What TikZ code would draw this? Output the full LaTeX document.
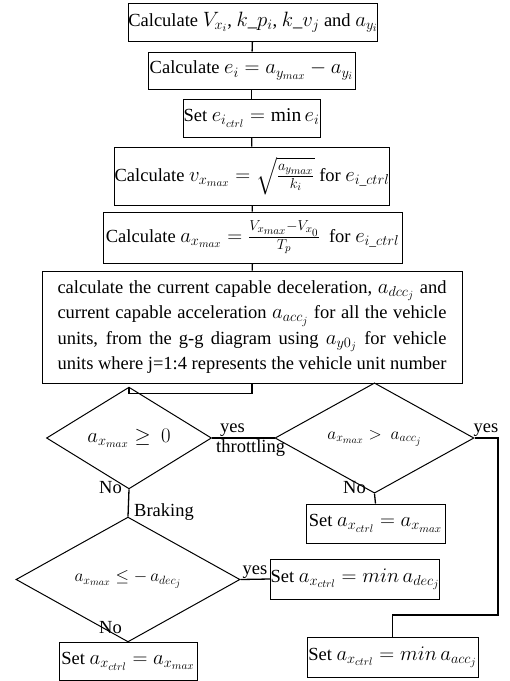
\documentclass[tikz,border=0pt]{standalone}
\usepackage{amsmath}
\usepackage{fontspec}
\setmainfont{Liberation Serif}
\DeclareMathSizes{18.5}{19.5}{13.5}{10.5}
\DeclareMathSizes{17}{18}{13}{10}
\usetikzlibrary{shapes.geometric,positioning}
\tikzset
{
    stepbox/.style   = {rectangle, draw=black, line width=1pt, align=center, inner xsep=0pt, inner ysep=2pt, font=\fontsize{18.5}{22}\selectfont},
    testnode/.style  = {diamond, draw=black, line width=1pt, align=center, inner sep=0pt, font=\fontsize{18.5}{22}\selectfont},
    branch/.style    = {inner sep=1pt, font=\fontsize{18.5}{22}\selectfont},
    flowline/.style  = {draw=black, line width=1.3pt}
}

\begin{document}
\begin{tikzpicture}[x=1pt, y=-1pt]
\useasboundingbox (0,0) rectangle (510,681);
% main column
\node[stepbox, minimum width=246pt, minimum height=38pt] (calcv) at (253,22)
    {Calculate $V_{x_i}$, $k\_p_i$, $k\_v_j$ and $a_{y_i}$};
\node[stepbox, minimum width=207pt, minimum height=37pt] (calce) at (251.5,70.5)
    {Calculate $e_i = a_{y_{max}} - a_{y_i}$};
\node[stepbox, minimum width=137pt, minimum height=38pt] (sete) at (251.5,118)
    {Set $e_{i_{ctrl}} = \min e_i$};
\node[stepbox, minimum width=274pt, minimum height=58pt] (calcvx) at (252,176)
    {Calculate $v_{x_{max}} = \sqrt{\frac{a_{y_{max}}}{k_i}}$ for $e_{i\_ctrl}$};
\node[stepbox, minimum width=299pt, minimum height=51pt] (calcax) at (252.5,237.5)
    {Calculate $a_{x_{max}} = \frac{V_{x_{max}}-V_{x_0}}{T_p}$\ \ for $e_{i\_ctrl}$};
\node[stepbox, minimum width=420pt, minimum height=112pt, text width=389pt, align=justify,
      font=\fontsize{18.5}{25.5}\selectfont] (capable) at (252,327)
    {\parfillskip=0pt calculate the current capable deceleration, $a_{dcc_j}$ and\linebreak
     current capable acceleration $a_{acc_j}$ for all the vehicle\linebreak
     units, from the g-g diagram using $a_{y0_j}$ for vehicle\linebreak
     units where j=1:4 represents the vehicle unit number};
% decisions
\node[testnode, minimum width=165pt, minimum height=74pt] (ispos) at (129,438)
    {$a_{x_{max}} \geq\ 0$};
\node[testnode, minimum width=199pt, minimum height=74pt, font=\fontsize{17}{19}\selectfont] (isacc) at (374.5,438)
    {$a_{x_{max}} >\ a_{acc_j}$};
\node[testnode, minimum width=224pt, minimum height=73pt, font=\fontsize{17}{19}\selectfont] (isdec) at (128,579.5)
    {$a_{x_{max}} \leq -\, a_{dec_j}$};
% results
\node[stepbox, minimum width=139pt, minimum height=39pt] (thrmax) at (375.5,523.5)
    {Set $a_{x_{ctrl}} = a_{x_{max}}$};
\node[stepbox, minimum width=156pt, minimum height=40pt] (brkmin) at (355,579)
    {Set $a_{x_{ctrl}} = min\,a_{dec_j}$};
\node[stepbox, minimum width=138pt, minimum height=38pt] (brkmax) at (128,661)
    {Set $a_{x_{ctrl}} = a_{x_{max}}$};
\node[stepbox, minimum width=171pt, minimum height=40pt] (thrmin) at (392.5,657)
    {Set $a_{x_{ctrl}} = min\,a_{acc_j}$};
\coordinate (accturn) at (498,615);

% connectors
\draw[flowline] (calcv) -- (calce);
\draw[flowline] (calce) -- (sete);
\draw[flowline] (sete) -- (calcvx);
\draw[flowline] (calcvx) -- (calcax);
\draw[flowline] (calcax) -- (capable);
\draw[flowline] (capable.south) -- ++(0,10) -| (ispos.north);
\draw[flowline] (ispos.east) -- (isacc.west);
\draw[flowline] (isacc.south) -- (thrmax.north);
\draw[flowline] (isacc.east) -| (accturn) -| (thrmin.north);
\draw[flowline] (ispos.south) -- (isdec.north);
\draw[flowline] (isdec.east) -- (brkmin.west);
\draw[flowline] (isdec.south) -- (brkmax.north);

% branch labels
\node[branch, anchor=south west] (yespos) at ([xshift=7pt]ispos.east) {yes};
\node[branch, anchor=north west] (throt) at ([xshift=3pt]ispos.east) {throttling};
\node[branch, anchor=east] (nopos) at (123,488) {No};
\node[branch, anchor=west] (braking) at (133,512) {Braking};
\node[branch, anchor=south west] (yesacc) at ([xshift=-2pt]isacc.east) {yes};
\node[branch, anchor=east] (noacc) at (367,488) {No};
\node[branch, anchor=south west] (yesdec) at ([xshift=1pt]isdec.east) {yes};
\node[branch, anchor=east] (nodec) at (123,628) {No};
\end{tikzpicture}
\end{document}
